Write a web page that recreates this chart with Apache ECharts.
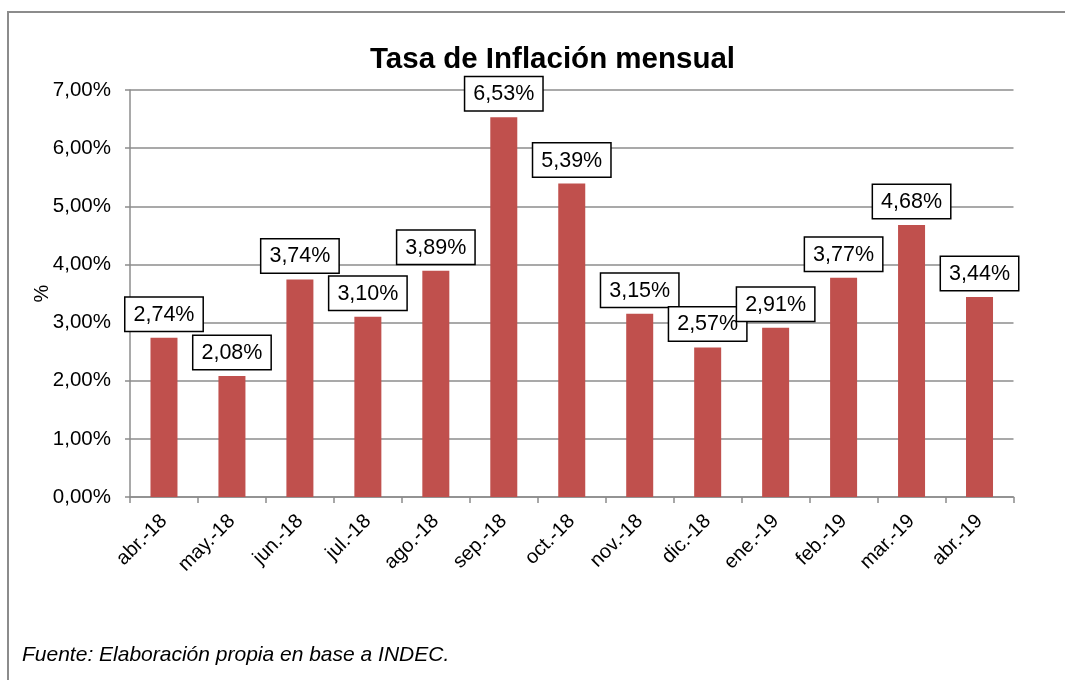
<!DOCTYPE html>
<html>
<head>
<meta charset="utf-8">
<title>Tasa de Inflación mensual</title>
<script src="https://cdn.jsdelivr.net/npm/echarts@6/dist/echarts.min.js"></script>
<style>
  html, body { margin: 0; padding: 0; background: #fff; }
  #chart { width: 1065px; height: 680px; }
</style>
</head>
<body>
<div id="chart"></div>
<script>
// meses
let months = ['abr.-18', 'may.-18', 'jun.-18', 'jul.-18', 'ago.-18', 'sep.-18', 'oct.-18',
  'nov.-18', 'dic.-18', 'ene.-19', 'feb.-19', 'mar.-19', 'abr.-19'];
// inflacion mensual (%)
let inflation = [2.74, 2.08, 3.74, 3.10, 3.89, 6.53, 5.39, 3.15, 2.57, 2.91, 3.77, 4.68, 3.44];
// eje y
let yMin = 0, yMax = 7, yStep = 1;

let fmt = function (v) {
  return Number(v).toFixed(2).replace('.', ',') + '%';
};

let chart = echarts.init(document.getElementById('chart'));
let font = 'Liberation Sans, Arial, sans-serif';

chart.setOption({
  animation: false,
  title: {
    text: 'Tasa de Inflación mensual',
    left: 365,
    top: 40,
    textStyle: {
      fontFamily: font,
      fontSize: 29.5,
      fontWeight: 'bold',
      color: '#000'
    }
  },
  grid: {
    left: 130,
    right: 51.5,
    top: 90,
    bottom: 183
  },
  xAxis: {
    type: 'category',
    data: months,
    axisLine: { lineStyle: { color: '#8c8c8c', width: 1.5 } },
    axisTick: { show: true, length: 6, lineStyle: { color: '#8c8c8c', width: 1.5 } },
    axisLabel: {
      rotate: 45,
      margin: 21,
      padding: [16, 0, 0, 0],
      fontFamily: font,
      fontSize: 20,
      color: '#000'
    }
  },
  yAxis: {
    type: 'value',
    min: yMin,
    max: yMax,
    interval: yStep,
    name: '%',
    nameLocation: 'middle',
    nameGap: 78,
    nameMoveOverlap: false,
    nameTextStyle: { fontFamily: font, fontSize: 20, color: '#000' },
    axisLine: { show: true, lineStyle: { color: '#8c8c8c', width: 1.5 } },
    axisTick: { show: true, length: 5, lineStyle: { color: '#8c8c8c', width: 1.5 } },
    splitLine: { lineStyle: { color: '#8c8c8c', width: 1.5 } },
    axisLabel: {
      margin: 19,
      fontFamily: font,
      fontSize: 20.5,
      color: '#000',
      formatter: fmt
    }
  },
  series: [{
    type: 'bar',
    data: inflation,
    barWidth: 27,
    itemStyle: { color: '#C0504D' },
    label: {
      show: true,
      position: 'top',
      distance: 7,
      formatter: function (p) { return fmt(p.value); },
      fontFamily: font,
      fontSize: 21.5,
      color: '#000',
      backgroundColor: '#fff',
      borderColor: '#000',
      borderWidth: 1.5,
      padding: [6, 8, 5, 8]
    }
  }],
  graphic: [
    {
      // marco exterior
      type: 'rect',
      shape: { x: 8, y: 12, width: 1100, height: 720 },
      style: { fill: 'none', stroke: '#8c8c8c', lineWidth: 2 },
      silent: true
    },
    {
      type: 'text',
      left: 22,
      top: 645,
      style: {
        text: 'Fuente: Elaboración propia en base a INDEC.',
        font: 'italic 21px Liberation Sans, Arial, sans-serif',
        fill: '#000'
      }
    }
  ]
});
</script>
</body>
</html>
